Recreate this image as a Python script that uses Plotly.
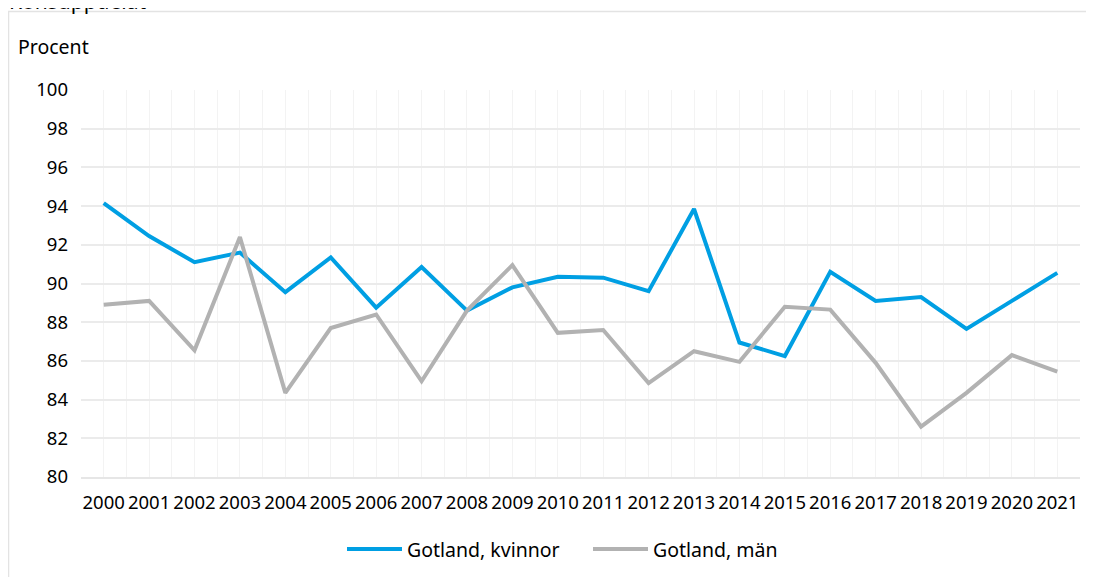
import plotly.graph_objects as go

years = list(range(2000, 2022))
kvinnor = [94.15, 92.45, 91.1, 91.6, 89.55, 91.35, 88.75, 90.85, 88.6, 89.8, 90.35,
           90.3, 89.6, 93.85, 86.95, 86.25, 90.6, 89.1, 89.3, 87.65, 89.1, 90.55]
man = [88.9, 89.1, 86.55, 92.4, 84.35, 87.7, 88.4, 84.95, 88.6, 90.95, 87.45,
       87.6, 84.85, 86.5, 85.95, 88.8, 88.65, 85.9, 82.6, 84.35, 86.3, 85.45]
y_ticks = list(range(80, 101, 2))
series_names = ["Gotland, kvinnor", "Gotland, män"]
series_colors = ["#009fe3", "#b2b2b2"]

FONT = "Noto Sans, Liberation Sans, sans-serif"

fig = go.Figure()
for vals, name, col in zip([kvinnor, man], series_names, series_colors):
    fig.add_trace(go.Scatter(x=years, y=vals, mode="lines", name=name,
                             line=dict(color=col, width=4), showlegend=False))

# page is offset by the 8px body margin; work in page pixels and convert
OFF = 8
W, H = 1094 - OFF, 577 - OFF
L, T = 81 - OFF, 90 - OFF
R = W - (1080 - OFF)
B = H - (477 - OFF)
pw, ph = W - L - R, H - T - B


def px_x(px):
    return (px - OFF - L) / pw


def px_y(py):
    return (H - B - (py - OFF)) / ph


shapes = [dict(type="rect", xref="paper", yref="paper",
               x0=px_x(8.5), x1=px_x(1300), y0=px_y(11.5), y1=px_y(900),
               line=dict(color="#e3e3e3", width=1.5), fillcolor="rgba(0,0,0,0)", layer="below")]
annotations = [
    dict(text="Procent", xref="paper", yref="paper", x=px_x(16), y=px_y(47),
         xanchor="left", yanchor="middle", showarrow=False, font=dict(size=19.5)),
    dict(text="Könsuppdelat", xref="paper", yref="paper", x=px_x(7), y=px_y(17),
         xanchor="left", yanchor="bottom", showarrow=False, font=dict(size=21)),
]

# custom legend (longer line samples as in the reference)
leg_y = 549
leg_items = [(347, 402, 405), (593, 648, 651)]
for (lx0, lx1, tx), name, col in zip(leg_items, series_names, series_colors):
    shapes.append(dict(type="line", xref="paper", yref="paper",
                       x0=px_x(lx0), x1=px_x(lx1), y0=px_y(leg_y), y1=px_y(leg_y),
                       line=dict(color=col, width=4)))
    annotations.append(dict(text=name, xref="paper", yref="paper", x=px_x(tx), y=px_y(leg_y),
                            xanchor="left", yanchor="middle", showarrow=False,
                            font=dict(size=19.5)))

fig.update_layout(
    width=W, height=H,
    margin=dict(l=L, r=R, t=T, b=B),
    paper_bgcolor="white", plot_bgcolor="white",
    font=dict(family=FONT, size=18.5, color="#000000"),
    showlegend=False,
    xaxis=dict(range=[1999.5, 2021.5], tickmode="array", tickvals=years,
               ticktext=[str(y) for y in years], showgrid=True, gridcolor="#f3f3f3",
               gridwidth=1, zeroline=False, showline=True, linecolor="#e6e6e6", linewidth=1.5,
               ticks="", ticklabelstandoff=8, tickfont=dict(size=18.5),
               minor=dict(tickmode="linear", tick0=1999.5, dtick=1, showgrid=True,
                          gridcolor="#f3f3f3", gridwidth=1)),
    yaxis=dict(range=[80, 100], tickmode="array", tickvals=y_ticks,
               ticktext=[str(v) for v in y_ticks], showgrid=True, gridcolor="#ebebeb",
               gridwidth=1.5, zeroline=False, showline=False, ticks="",
               ticklabelstandoff=12, tickfont=dict(size=18.5)),
    shapes=shapes,
    annotations=annotations,
)

fig.write_html("out.html")
